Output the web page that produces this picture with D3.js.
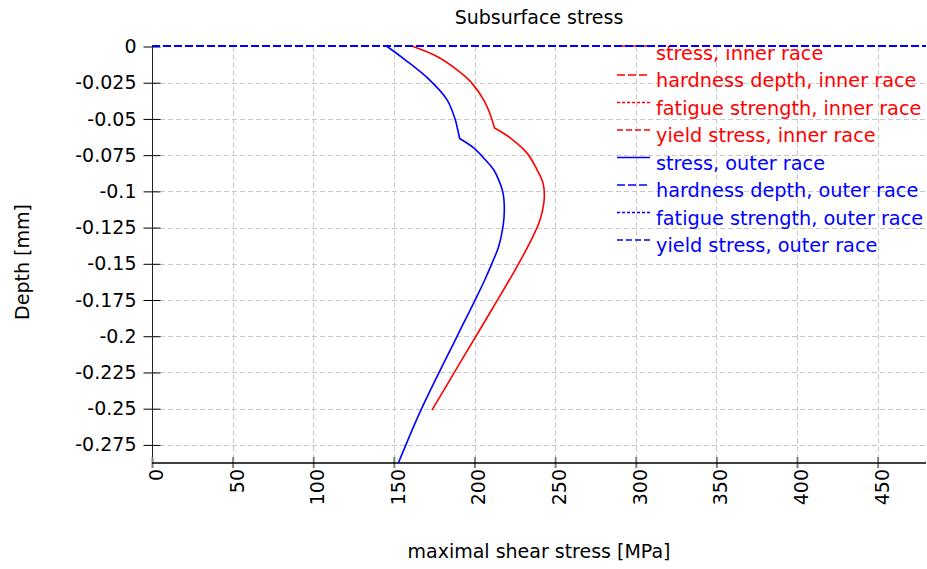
<!DOCTYPE html>
<html>
<head>
<meta charset="utf-8">
<script src="https://cdn.jsdelivr.net/npm/d3@7"></script>
<style>
  html, body { margin: 0; padding: 0; background: #fff; }
  svg { display: block; font-family: "DejaVu Sans", sans-serif; }
</style>
</head>
<body>
<svg id="chart" width="927" height="569"></svg>
<script>
// Subsurface shear stress versus depth for inner and outer race

// inner race: [depth (mm), maximal shear stress (MPa)]
const innerStress = [
  [0, 161.9], [-0.0069, 176.8], [-0.0161, 189.2], [-0.0241, 197.4], [-0.0368, 205.7],
  [-0.0471, 209.8], [-0.0563, 212.4], [-0.0632, 222.3], [-0.0736, 232.6], [-0.0851, 238.8],
  [-0.0943, 242.5], [-0.1040, 243.3], [-0.1150, 241.8], [-0.1220, 239.9], [-0.1300, 236.7],
  [-0.1400, 232.2], [-0.1500, 227.3], [-0.1600, 222.2], [-0.1725, 215.6], [-0.1955, 203.3],
  [-0.2093, 195.9], [-0.2208, 189.7], [-0.2415, 178.7], [-0.2510, 173.6]
];

// outer race: [depth (mm), maximal shear stress (MPa)]
const outerStress = [
  [0, 145.8], [-0.0092, 157.0], [-0.0230, 172.1], [-0.0368, 183.0], [-0.0506, 188.1],
  [-0.0575, 189.6], [-0.0635, 190.8], [-0.0700, 199.5], [-0.0782, 206.7], [-0.0851, 211.9],
  [-0.0921, 215.0], [-0.1012, 217.7], [-0.1127, 218.5], [-0.1242, 217.7], [-0.1380, 215.0],
  [-0.1495, 210.9], [-0.1610, 206.4], [-0.1725, 201.5], [-0.1955, 191.2], [-0.2093, 185.1],
  [-0.2230, 178.9], [-0.2438, 169.8], [-0.2576, 164.1], [-0.2880, 152.6]
];

// depth where the stress profile has a corner
const innerKinkDepth = -0.0563;
const outerKinkDepth = -0.0635;

// hardness depth of the outer race, drawn across the whole stress range
const outerHardness = [[0, 0], [0, 480]];

const xTicks = [0, 50, 100, 150, 200, 250, 300, 350, 400, 450];
const yTicks = [0, -0.025, -0.05, -0.075, -0.1, -0.125, -0.15, -0.175, -0.2, -0.225, -0.25, -0.275];
const yTickLabels = ["0", "-0.025", "-0.05", "-0.075", "-0.1", "-0.125", "-0.15", "-0.175", "-0.2", "-0.225", "-0.25", "-0.275"];

const legendNames = [
  "stress, inner race", "hardness depth, inner race", "fatigue strength, inner race", "yield stress, inner race",
  "stress, outer race", "hardness depth, outer race", "fatigue strength, outer race", "yield stress, outer race"
];

const RED = "#ff0000", BLUE = "#0000ff";
const legendColors = [RED, RED, RED, RED, BLUE, BLUE, BLUE, BLUE];
const legendDash = [null, "8,3", "3,2", "6,3", null, "8,3", "3,2", "6,3"];

(function draw() {
  const svg = d3.select("#chart");
  const pLeft = 152, pRight = 926, pTop = 46.5, pBottom = 463;

  const x = d3.scaleLinear().domain([0, 480]).range([pLeft, pRight]);
  const y = d3.scaleLinear().domain([-0.2875, 0]).range([pBottom, pTop]);

  // title
  svg.append("text")
    .attr("x", (pLeft + pRight) / 2).attr("y", 24)
    .attr("text-anchor", "middle").attr("font-size", 19).attr("fill", "#000")
    .text("Subsurface stress");

  // grid
  const grid = svg.append("g").attr("stroke", "#c8c8c8").attr("stroke-width", 1).attr("stroke-dasharray", "5,3");
  grid.selectAll("line.h").data(yTicks.filter(v => v !== 0)).join("line")
    .attr("x1", pLeft).attr("x2", pRight)
    .attr("y1", d => Math.round(y(d)) + 0.5).attr("y2", d => Math.round(y(d)) + 0.5);
  grid.selectAll("line.v").data(xTicks.filter(v => v !== 0)).join("line")
    .attr("y1", pTop).attr("y2", pBottom)
    .attr("x1", d => Math.round(x(d)) + 0.5).attr("x2", d => Math.round(x(d)) + 0.5);

  // y axis
  const yAxis = d3.axisLeft(y).tickValues(yTicks).tickSize(9).tickPadding(7)
    .tickFormat((d, i) => yTickLabels[i]);
  const gy = svg.append("g").attr("transform", `translate(${pLeft + 0.5},0)`).call(yAxis);
  gy.select(".domain").remove();
  gy.selectAll(".tick line").attr("x2", -9).attr("x1", 8).attr("stroke", "#000");
  gy.selectAll(".tick text").attr("font-size", 19).attr("font-family", "DejaVu Sans, sans-serif").attr("fill", "#000");
  svg.append("line").attr("x1", pLeft + 0.5).attr("x2", pLeft + 0.5).attr("y1", pTop).attr("y2", pBottom)
    .attr("stroke", "#222").attr("stroke-width", 1);

  // x axis
  const xAxis = d3.axisBottom(x).tickValues(xTicks).tickSize(5).tickFormat(d3.format("d"));
  const gx = svg.append("g").attr("transform", `translate(0,${pBottom})`).call(xAxis);
  gx.select(".domain").remove();
  gx.selectAll(".tick line").attr("y1", -6).attr("y2", 5).attr("stroke", "#808080").attr("stroke-width", 2);
  gx.selectAll(".tick text")
    .attr("font-size", 19).attr("font-family", "DejaVu Sans, sans-serif").attr("fill", "#000")
    .attr("text-anchor", "end")
    .attr("transform", "translate(0,6) rotate(-90)")
    .attr("x", 0).attr("y", 0).attr("dy", "0.55em");
  svg.append("line").attr("x1", pLeft).attr("x2", pRight).attr("y1", pBottom).attr("y2", pBottom)
    .attr("stroke", "#000").attr("stroke-width", 1.5);

  // axis titles
  svg.append("text")
    .attr("x", (pLeft + pRight) / 2).attr("y", 558)
    .attr("text-anchor", "middle").attr("font-size", 19).attr("fill", "#000")
    .text("maximal shear stress [MPa]");
  svg.append("text")
    .attr("transform", "translate(29,262) rotate(-90)")
    .attr("text-anchor", "middle").attr("font-size", 19).attr("fill", "#000")
    .text("Depth [mm]");

  // legend (samples sit beneath the series lines)
  const legend = svg.append("g");
  legendNames.forEach((name, i) => {
    const ly = i === 0 ? 46 : 47.5 + 27.5 * i;
    legend.append("line")
      .attr("x1", 617).attr("x2", 650).attr("y1", ly).attr("y2", ly)
      .attr("stroke", legendColors[i]).attr("stroke-width", 1.6)
      .attr("stroke-dasharray", legendDash[i]);
    legend.append("text")
      .attr("x", 656).attr("y", 59.5 + 27.5 * i)
      .attr("font-size", 19.3).attr("fill", legendColors[i])
      .text(name);
  });

  // series: smooth on each side of the corner, sharp at the corner itself
  svg.append("clipPath").attr("id", "plot-clip").append("rect")
    .attr("x", pLeft).attr("y", pTop - 2).attr("width", pRight - pLeft).attr("height", pBottom - pTop + 2);
  const plot = svg.append("g").attr("clip-path", "url(#plot-clip)");
  const line = d3.line().x(d => x(d[1])).y(d => y(d[0])).curve(d3.curveCatmullRom.alpha(0.5));
  const profilePath = (data, kink) => {
    const upper = data.filter(d => d[0] >= kink);
    const lower = data.filter(d => d[0] <= kink);
    return line(upper) + line(lower).replace(/^M[^CL]*/, "");
  };

  plot.append("path").attr("d", profilePath(innerStress, innerKinkDepth))
    .attr("fill", "none").attr("stroke", RED).attr("stroke-width", 1.6).attr("stroke-linejoin", "miter");
  plot.append("path").attr("d", profilePath(outerStress, outerKinkDepth))
    .attr("fill", "none").attr("stroke", BLUE).attr("stroke-width", 1.6).attr("stroke-linejoin", "miter");
  plot.append("path").datum(outerHardness)
    .attr("d", d3.line().x(d => x(d[1])).y(d => y(d[0]) - 0.5))
    .attr("fill", "none").attr("stroke", BLUE).attr("stroke-width", 2)
    .attr("stroke-dasharray", "8,3");
})();
</script>
</body>
</html>
